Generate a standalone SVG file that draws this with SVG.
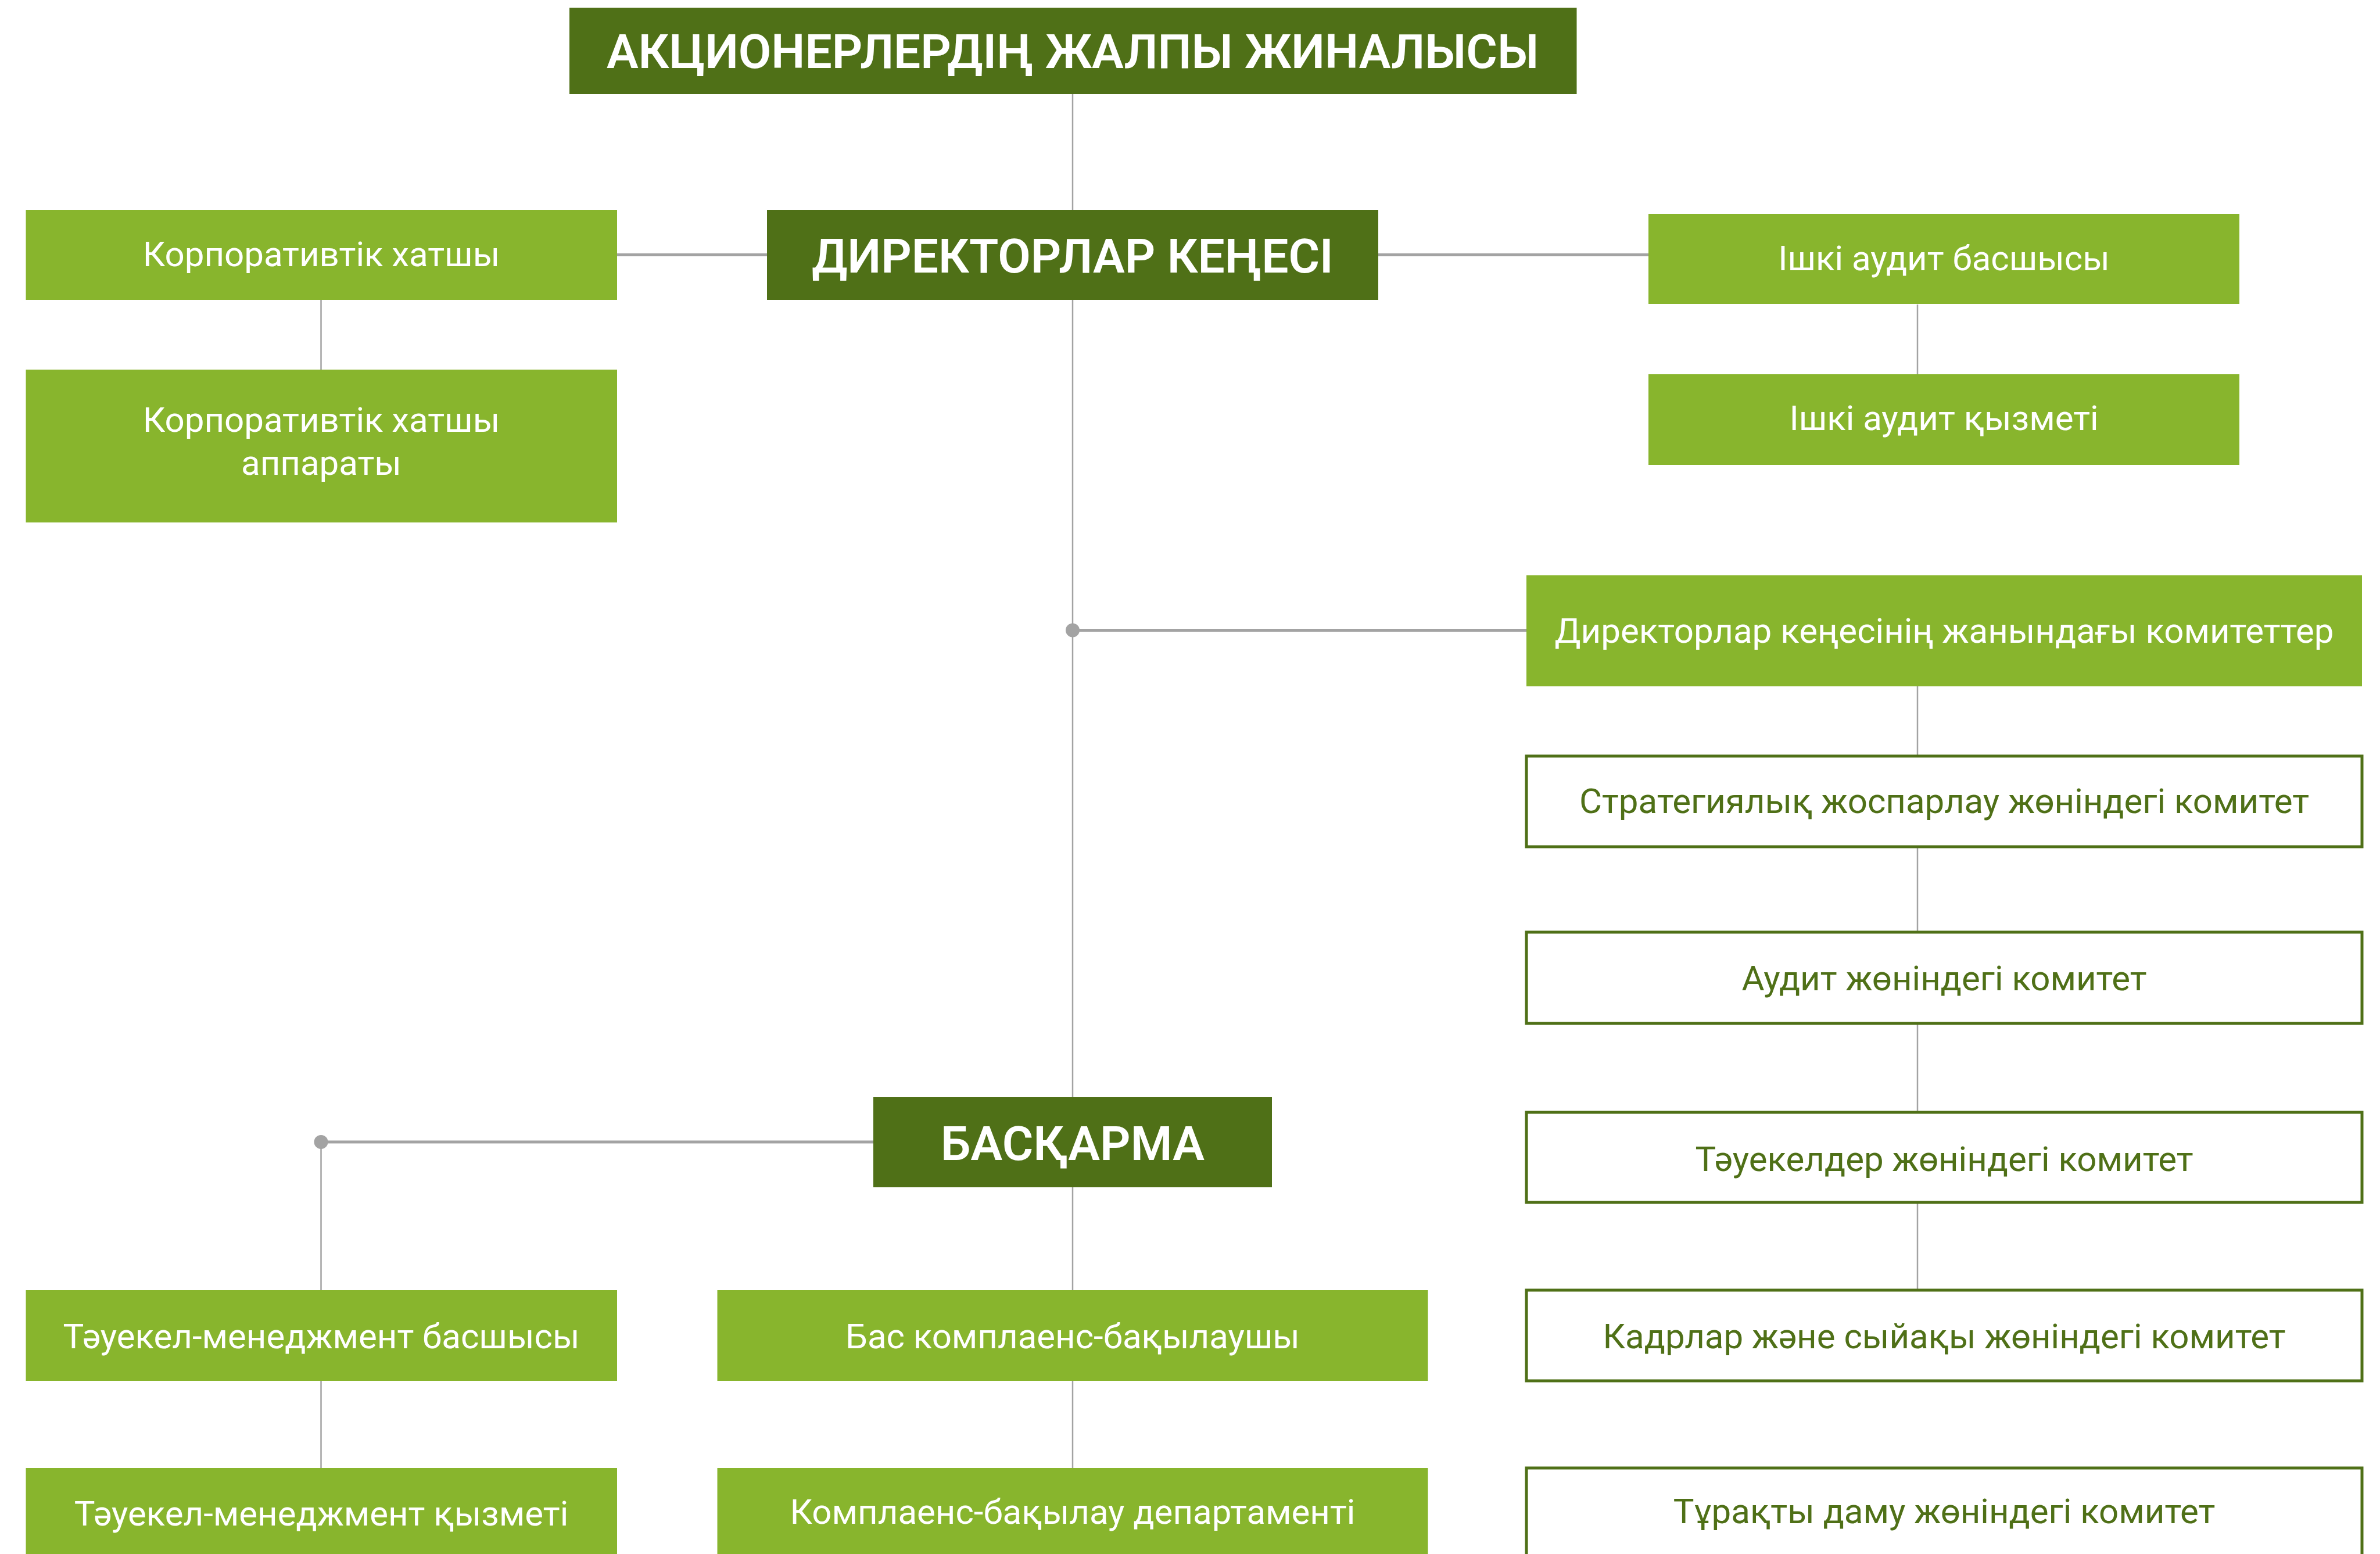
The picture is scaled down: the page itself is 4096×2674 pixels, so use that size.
<svg xmlns="http://www.w3.org/2000/svg" width="4096" height="2674" viewBox="0 0 4096 2674">
<defs>
<style>
.dark{fill:#4f7017}
.light{fill:#88b52d}
.outline{fill:#ffffff;stroke:#4f7017;stroke-width:5}
.t{font-family:Roboto,"Liberation Sans",sans-serif;text-anchor:middle}
.tb{font-size:82px;font-weight:600;fill:#ffffff}
.tw{font-size:60px;font-weight:400;fill:#ffffff}
.tg{font-size:60px;font-weight:400;fill:#4f7017}
.thin{stroke:#a3a3a3;stroke-width:2.5;fill:none}
.thick{stroke:#a3a3a3;stroke-width:5;fill:none}
.dot{fill:#a3a3a3}
</style>
</defs>
<rect width="4096" height="2674" fill="#ffffff"/>
<g id="connectors">
<line class="thin" x1="1846" y1="162" x2="1846" y2="361"/>
<line class="thin" x1="1846" y1="516" x2="1846" y2="1888"/>
<line class="thin" x1="1846" y1="2043" x2="1846" y2="2220"/>
<line class="thin" x1="1846" y1="2376" x2="1846" y2="2526"/>
<line class="thick" x1="1062" y1="438.6" x2="1320" y2="438.6"/>
<line class="thick" x1="2372" y1="438.6" x2="2837" y2="438.6"/>
<line class="thin" x1="552.5" y1="516" x2="552.5" y2="636"/>
<line class="thin" x1="3300" y1="524" x2="3300" y2="644"/>
<line class="thick" x1="1846" y1="1084.5" x2="2627" y2="1084.5"/>
<circle class="dot" cx="1846" cy="1084.5" r="12"/>
<line class="thin" x1="3300" y1="1181" x2="3300" y2="1301"/>
<line class="thin" x1="3300" y1="1457" x2="3300" y2="1604"/>
<line class="thin" x1="3300" y1="1761" x2="3300" y2="1914"/>
<line class="thin" x1="3300" y1="2069" x2="3300" y2="2220"/>
<line class="thick" x1="552.5" y1="1965" x2="1503" y2="1965"/>
<circle class="dot" cx="552.5" cy="1965" r="12"/>
<line class="thin" x1="552.5" y1="1965" x2="552.5" y2="2220"/>
<line class="thin" x1="552.5" y1="2376" x2="552.5" y2="2526"/>
</g>
<g id="n-general-meeting">
<rect class="dark" x="980" y="13.5" width="1733.5" height="148.5"/>
<text class="t tb" x="1846" y="117">АКЦИОНЕРЛЕРДІҢ ЖАЛПЫ ЖИНАЛЫСЫ</text>
</g>
<g id="n-board">
<rect class="dark" x="1320" y="361" width="1052" height="155"/>
<text class="t tb" x="1846" y="469">ДИРЕКТОРЛАР КЕҢЕСІ</text>
</g>
<g id="n-corp-secretary">
<rect class="light" x="44.5" y="361" width="1017.5" height="155"/>
<text class="t tw" x="553" y="458">Корпоративтік хатшы</text>
</g>
<g id="n-corp-secretary-office">
<rect class="light" x="44.5" y="636" width="1017.5" height="263"/>
<text class="t tw" x="553" y="743">Корпоративтік хатшы</text>
<text class="t tw" x="553" y="817">аппараты</text>
</g>
<g id="n-audit-head">
<rect class="light" x="2837" y="368" width="1017" height="155"/>
<text class="t tw" x="3345.5" y="465">Ішкі аудит басшысы</text>
</g>
<g id="n-audit-service">
<rect class="light" x="2837" y="644" width="1017" height="156"/>
<text class="t tw" x="3345.5" y="740">Ішкі аудит қызметі</text>
</g>
<g id="n-committees">
<rect class="light" x="2627" y="990" width="1438" height="191"/>
<text class="t tw" x="3346" y="1106">Директорлар кеңесінің жанындағы комитеттер</text>
</g>
<g id="n-strategy-committee">
<rect class="outline" x="2627" y="1301" width="1438" height="156"/>
<text class="t tg" x="3346" y="1399">Стратегиялық жоспарлау жөніндегі комитет</text>
</g>
<g id="n-audit-committee">
<rect class="outline" x="2627" y="1604" width="1438" height="157"/>
<text class="t tg" x="3346" y="1704">Аудит жөніндегі комитет</text>
</g>
<g id="n-risk-committee">
<rect class="outline" x="2627" y="1914" width="1438" height="155"/>
<text class="t tg" x="3346" y="2015">Тәуекелдер жөніндегі комитет</text>
</g>
<g id="n-hr-committee">
<rect class="outline" x="2627" y="2220" width="1438" height="156"/>
<text class="t tg" x="3346" y="2320">Кадрлар және сыйақы жөніндегі комитет</text>
</g>
<g id="n-sustainability-committee">
<rect class="outline" x="2627" y="2526" width="1438" height="160"/>
<text class="t tg" x="3346" y="2621">Тұрақты даму жөніндегі комитет</text>
</g>
<g id="n-management-board">
<rect class="dark" x="1503" y="1888" width="686" height="155"/>
<text class="t tb" x="1846" y="1996">БАСҚАРМА</text>
</g>
<g id="n-risk-head">
<rect class="light" x="44.5" y="2220" width="1017.5" height="156"/>
<text class="t tw" x="553" y="2320">Тәуекел-менеджмент басшысы</text>
</g>
<g id="n-risk-service">
<rect class="light" x="44.5" y="2526" width="1017.5" height="160"/>
<text class="t tw" x="553" y="2625">Тәуекел-менеджмент қызметі</text>
</g>
<g id="n-chief-compliance">
<rect class="light" x="1234.5" y="2220" width="1223" height="156"/>
<text class="t tw" x="1846" y="2320">Бас комплаенс-бақылаушы</text>
</g>
<g id="n-compliance-dept">
<rect class="light" x="1234.5" y="2526" width="1223" height="160"/>
<text class="t tw" x="1846" y="2622">Комплаенс-бақылау департаменті</text>
</g>
</svg>
